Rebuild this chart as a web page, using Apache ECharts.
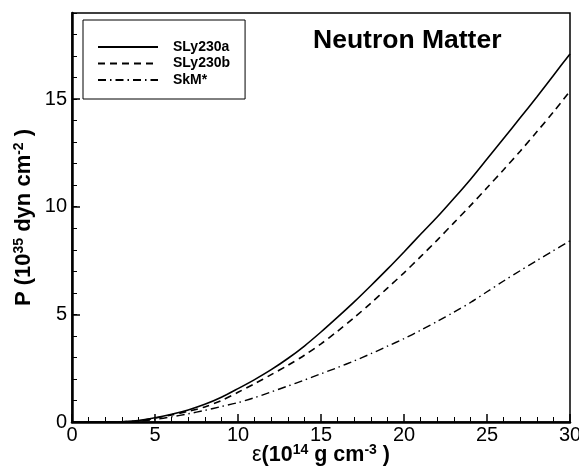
<!DOCTYPE html>
<html>
<head>
<meta charset="utf-8">
<script src="https://cdn.jsdelivr.net/npm/echarts@6/dist/echarts.min.js"></script>
<style>
  html, body { margin: 0; padding: 0; background: #fff; }
  #chart { width: 579px; height: 469px; }
</style>
</head>
<body>
<div id="chart"></div>
<script>
// energy density (10^14 g cm^-3)
var eps = [0, 1, 2, 3, 4, 5, 6, 7, 8, 9, 10, 11, 12, 13, 14, 15, 16, 17, 18, 19, 20,
  21, 22, 23, 24, 25, 26, 27, 28, 29, 30];
// pressure (10^35 dyn cm^-2)
var sly230a = [0, 0, 0, 0.01, 0.07, 0.2, 0.36, 0.56, 0.82, 1.15, 1.55, 1.97, 2.43, 2.95, 3.53, 4.18,
  4.87, 5.58, 6.33, 7.1, 7.9, 8.72, 9.52, 10.38, 11.27, 12.22, 13.17, 14.13, 15.1, 16.1, 17.1];
var sly230b = [0, 0, 0, 0.01, 0.05, 0.18, 0.33, 0.5, 0.7, 1.0, 1.38, 1.78, 2.2, 2.63, 3.1, 3.63,
  4.22, 4.85, 5.52, 6.22, 6.93, 7.68, 8.45, 9.25, 10.05, 10.88, 11.72, 12.58, 13.48, 14.4, 15.37];
var skm = [0, 0, 0, 0.01, 0.04, 0.12, 0.24, 0.38, 0.54, 0.72, 0.9, 1.13, 1.4, 1.67, 1.95, 2.24,
  2.53, 2.84, 3.17, 3.52, 3.87, 4.26, 4.67, 5.1, 5.55, 6.05, 6.55, 7.03, 7.5, 7.96, 8.42];
var xTicks = [0, 30, 5];   // min, max, step
var yTicks = [0, 19, 5];

var font = 'Liberation Sans, Arial, sans-serif';

function pairs(ys) {
  return eps.map(function (x, i) { return [x, ys[i]]; });
}

var chart = echarts.init(document.getElementById('chart'), null, { renderer: 'canvas' });

var option = {
  backgroundColor: '#fff',
  animation: false,
  textStyle: { fontFamily: font, color: '#000' },
  title: {
    text: 'Neutron Matter',
    left: 313,
    top: 27,
    padding: 0,
    textStyle: { fontFamily: font, fontSize: 26.5, fontWeight: 'bold', color: '#000' }
  },
  legend: {
    orient: 'vertical',
    left: 83,
    top: 20,
    padding: [20, 15, 12, 14],
    itemWidth: 60,
    itemHeight: 14,
    itemGap: 2.5,
    borderColor: '#000',
    borderWidth: 1,
    backgroundColor: '#fff',
    itemStyle: { opacity: 0 },
    textStyle: { fontFamily: font, fontSize: 14, fontWeight: 'bold', color: '#000', padding: [0, 0, 0, 10] },
    data: ['SLy230a', 'SLy230b', 'SkM*']
  },
  grid: {
    left: 72, right: 9, top: 13, bottom: 47,
    outerBoundsMode: 'none',
    show: true, borderColor: '#000', borderWidth: 1.5
  },
  xAxis: {
    type: 'value',
    min: xTicks[0], max: xTicks[1], interval: xTicks[2],
    name: '{eps|ε}(10{sup|14} g cm{sup|-3} )',
    nameLocation: 'middle',
    nameGap: 21,
    nameMoveOverlap: false,
    nameTextStyle: {
      fontFamily: font, fontSize: 21.5, fontWeight: 'bold', color: '#000',
      rich: {
        eps: { fontFamily: font, fontSize: 21.5, fontWeight: 'normal', color: '#000', lineHeight: 24 },
        sup: { fontFamily: font, fontSize: 14, fontWeight: 'bold', color: '#000', verticalAlign: 'top', lineHeight: 13 }
      }
    },
    axisLine: { lineStyle: { color: '#000', width: 2.5 } },
    axisTick: { inside: true, length: 8, lineStyle: { color: '#000', width: 1.5 } },
    minorTick: { show: true, splitNumber: 5, length: 5, lineStyle: { color: '#000', width: 1 } },
    axisLabel: { fontFamily: font, fontSize: 20, color: '#000', margin: 3 },
    splitLine: { show: false }
  },
  yAxis: [{
    type: 'value',
    min: yTicks[0], max: yTicks[1], interval: yTicks[2],
    name: 'P (10{sup|35} dyn cm{sup|-2} )',
    nameLocation: 'middle',
    nameGap: 36,
    nameMoveOverlap: false,
    nameTextStyle: {
      fontFamily: font, fontSize: 22, fontWeight: 'bold', color: '#000', lineHeight: 24,
      rich: {
        sup: { fontFamily: font, fontSize: 14, fontWeight: 'bold', color: '#000', verticalAlign: 'top', lineHeight: 13 }
      }
    },
    axisLine: { lineStyle: { color: '#000', width: 2.5 } },
    axisTick: { inside: true, length: 8, lineStyle: { color: '#000', width: 1.5 } },
    axisLabel: { fontFamily: font, fontSize: 20, color: '#000', margin: 5, showMaxLabel: false },
    splitLine: { show: false }
  }, {
    // unit ticks only
    type: 'value',
    position: 'left',
    min: yTicks[0], max: yTicks[1], interval: 1,
    axisLine: { show: false },
    axisTick: { inside: true, length: 5, lineStyle: { color: '#000', width: 1 } },
    axisLabel: { show: false },
    splitLine: { show: false }
  }],
  series: [{
    name: 'SLy230a',
    type: 'line',
    data: pairs(sly230a),
    symbol: 'none',
    smooth: 0.3,
    lineStyle: { color: '#000', width: 1.6, type: 'solid' },
    itemStyle: { color: '#000' }
  }, {
    name: 'SLy230b',
    type: 'line',
    data: pairs(sly230b),
    symbol: 'none',
    smooth: 0.3,
    lineStyle: { color: '#000', width: 1.6, type: [7, 5] },
    itemStyle: { color: '#000' }
  }, {
    name: 'SkM*',
    type: 'line',
    data: pairs(skm),
    symbol: 'none',
    smooth: 0.3,
    lineStyle: { color: '#000', width: 1.4, type: [8, 4, 1.5, 4] },
    itemStyle: { color: '#000' }
  }]
};

chart.setOption(option);
</script>
</body>
</html>
